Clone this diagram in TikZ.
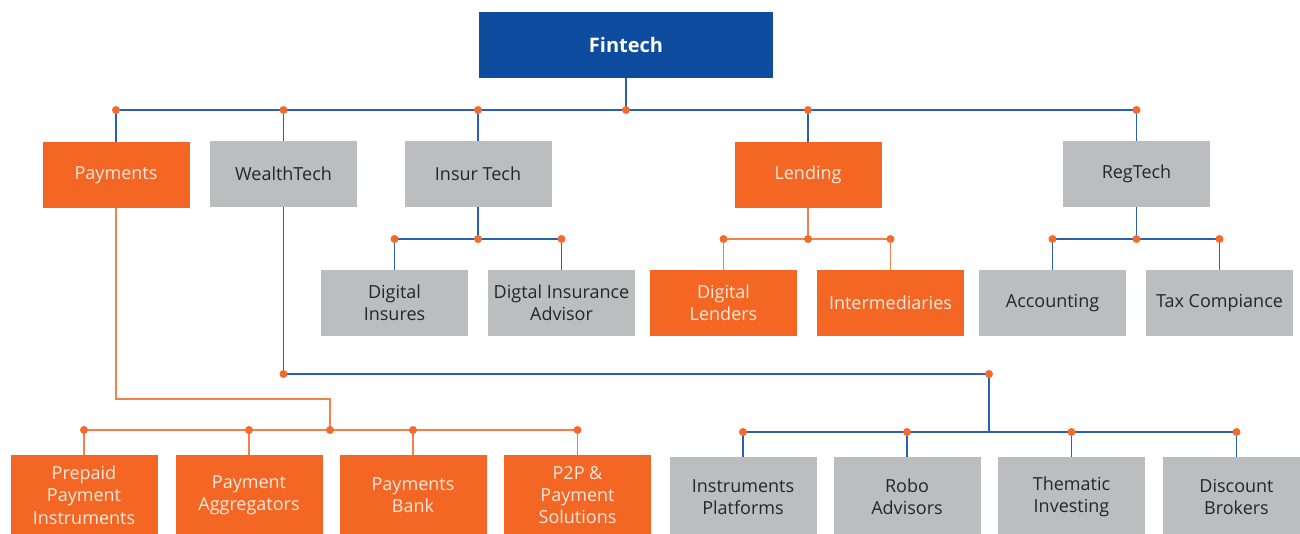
\documentclass[tikz,border=0pt]{standalone}
\usepackage{fontspec}
\setmainfont{Open Sans}
\definecolor{finblue}{RGB}{14,76,159}
\definecolor{orbox}{RGB}{243,102,36}
\definecolor{grbox}{RGB}{188,189,191}
\definecolor{blline}{RGB}{40,96,184}
\definecolor{orline}{RGB}{245,128,72}
\definecolor{dotc}{RGB}{243,106,42}
\definecolor{darktxt}{RGB}{38,38,38}
\definecolor{lighttxt}{RGB}{253,234,222}
\tikzset{
  box/.style={inner sep=0pt, minimum width=147pt, minimum height=66pt, align=center,
    font=\fontsize{18}{22.3}\selectfont},
  obox/.style={box, fill=orbox, text=lighttxt},
  gbox/.style={box, fill=grbox, text=darktxt},
  tall/.style={minimum height=80pt},
  bl/.style={draw=blline, line width=1.8pt},
  ol/.style={draw=orline, line width=1.8pt},
  jdot/.style={fill=dotc},
}
\begin{document}
\begin{tikzpicture}[x=1pt,y=-1pt]
\useasboundingbox (0,0) rectangle (1300,533);
% top
\node[fill=finblue, text=white, minimum width=294pt, minimum height=66pt, inner sep=0pt,
  font=\bfseries\fontsize{20}{24}\selectfont] (fin) at (626,45) {Fintech};
% level 1
\node[obox] (pay) at (116,175) {Payments};
\node[gbox] (wt) at (283.5,174) {WealthTech};
\node[gbox] (ins) at (478,174) {Insur Tech};
\node[obox] (len) at (808,175) {Lending};
\node[gbox] (reg) at (1136.5,174) {RegTech};
% level 2
\node[gbox] (dins) at (394.5,303) {Digital\\Insures};
\node[gbox] (dadv) at (561.5,303) {Digtal Insurance\\Advisor};
\node[obox] (dlen) at (723.5,303) {Digital\\Lenders};
\node[obox] (inter) at (890.5,303) {Intermediaries};
\node[gbox] (acc) at (1052.5,303) {Accounting};
\node[gbox] (tax) at (1219.5,303) {Tax Compiance};
% bottom payments
\node[obox, tall] (pre) at (84,495) {Prepaid\\Payment\\Instruments};
\node[obox, tall] (pagg) at (249,495) {Payment\\Aggregators};
\node[obox, tall] (pbank) at (413,495) {Payments\\Bank};
\node[obox, tall] (p2p) at (577.5,495) {P2P \&\\Payment\\Solutions};
% bottom wealth
\node[gbox, tall] (inst) at (743,497) {Instruments\\Platforms};
\node[gbox, tall] (robo) at (907,497) {Robo\\Advisors};
\node[gbox, tall] (them) at (1071.5,497) {Thematic\\Investing};
\node[gbox, tall] (disc) at (1236.5,497) {Discount\\Brokers};

% coordinates
\coordinate (tb) at (626,110);
\coordinate (ib) at (478,239);
\coordinate (lb) at (808,239);
\coordinate (rb) at (1136.5,239);
\coordinate (pk) at (330,399);
\coordinate (pb) at (330,430);
\coordinate (wk) at (989,374);
\coordinate (wb) at (989,432);

% top bus
\draw[bl] (fin.south) -- (tb);
\draw[bl] (pay.north |- tb) -- (reg.north |- tb);
\foreach \n in {pay,wt,ins,len,reg} \draw[bl] (\n.north) -- (\n.north |- tb);
% insur
\draw[bl] (ins.south) -- (ib);
\draw[bl] (dins.north |- ib) -- (dadv.north |- ib);
\foreach \n in {dins,dadv} \draw[bl] (\n.north) -- (\n.north |- ib);
% lending
\draw[ol] (len.south) -- (lb);
\draw[ol] (dlen.north |- lb) -- (inter.north |- lb);
\foreach \n in {dlen,inter} \draw[ol] (\n.north) -- (\n.north |- lb);
% regtech
\draw[bl] (reg.south) -- (rb);
\draw[bl] (acc.north |- rb) -- (tax.north |- rb);
\foreach \n in {acc,tax} \draw[bl] (\n.north) -- (\n.north |- rb);
% payments
\draw[ol] (pay.south) |- (pk) -- (pb);
\draw[ol] (pre.north |- pb) -- (p2p.north |- pb);
\foreach \n in {pre,pagg,pbank,p2p} \draw[ol] (\n.north) -- (\n.north |- pb);
% wealth
\draw[bl] (wt.south) |- (wk) -- (wb);
\draw[bl] (inst.north |- wb) -- (disc.north |- wb);
\foreach \n in {inst,robo,them,disc} \draw[bl] (\n.north) -- (\n.north |- wb);

% dots
\foreach \n in {pay,wt,ins,len,reg} \fill[jdot] (\n.north |- tb) circle (4pt);
\fill[jdot] (tb) circle (4pt);
\foreach \n in {dins,dadv} \fill[jdot] (\n.north |- ib) circle (4pt);
\fill[jdot] (ib) circle (4pt);
\foreach \n in {dlen,inter} \fill[jdot] (\n.north |- lb) circle (4pt);
\fill[jdot] (lb) circle (4pt);
\foreach \n in {acc,tax} \fill[jdot] (\n.north |- rb) circle (4pt);
\fill[jdot] (rb) circle (4pt);
\foreach \n in {pre,pagg,pbank,p2p} \fill[jdot] (\n.north |- pb) circle (4pt);
\fill[jdot] (pb) circle (4pt);
\foreach \n in {inst,robo,them,disc} \fill[jdot] (\n.north |- wb) circle (4pt);
\fill[jdot] (wt.south |- wk) circle (4pt);
\fill[jdot] (wk) circle (4pt);
\end{tikzpicture}
\end{document}
